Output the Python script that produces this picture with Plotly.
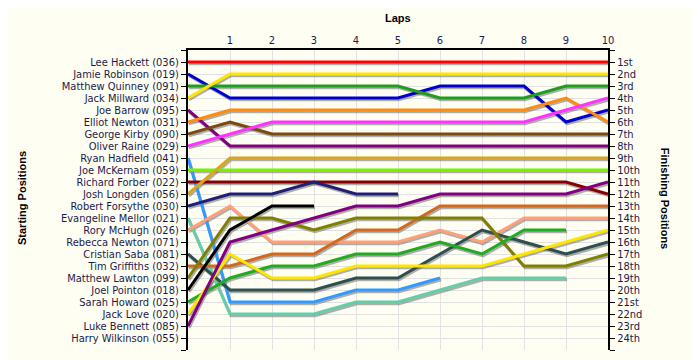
import plotly.graph_objects as go

laps = [0, 1, 2, 3, 4, 5, 6, 7, 8, 9, 10]

drivers = [
    "Lee Hackett (036)", "Jamie Robinson (019)", "Matthew Quinney (091)", "Jack Millward (034)",
    "Joe Barrow (095)", "Elliot Newton (031)", "George Kirby (090)", "Oliver Raine (029)",
    "Ryan Hadfield (041)", "Joe McKernam (059)", "Richard Forber (022)", "Josh Longden (056)",
    "Robert Forsythe (030)", "Evangeline Mellor (021)", "Rory McHugh (026)", "Rebecca Newton (071)",
    "Cristian Saba (081)", "Tim Griffiths (032)", "Matthew Lawton (099)", "Joel Pointon (018)",
    "Sarah Howard (025)", "Jack Love (020)", "Luke Bennett (085)", "Harry Wilkinson (055)",
]

finish_labels = [
    "1st", "2nd", "3rd", "4th", "5th", "6th", "7th", "8th", "9th", "10th", "11th", "12th",
    "13th", "14th", "15th", "16th", "17th", "18th", "19th", "20th", "21st", "22nd", "23rd", "24th",
]

N = None
lee_hackett       = [1, 1, 1, 1, 1, 1, 1, 1, 1, 1, 1]
jamie_robinson    = [2, 4, 4, 4, 4, 4, 3, 3, 3, 6, 5]
matthew_quinney   = [3, 3, 3, 3, 3, 3, 4, 4, 4, 3, 3]
jack_millward     = [4, 2, 2, 2, 2, 2, 2, 2, 2, 2, 2]
joe_barrow        = [5, 8, 8, 8, 8, 8, 8, 8, 8, 8, 8]
elliot_newton     = [6, 5, 5, 5, 5, 5, 5, 5, 5, 4, 6]
george_kirby      = [7, 6, 7, 7, 7, 7, 7, 7, 7, 7, 7]
oliver_raine      = [8, 7, 6, 6, 6, 6, 6, 6, 6, 5, 4]
ryan_hadfield     = [9, 21, 21, 21, 20, 20, 19, N, N, N, N]
joe_mckernam      = [10, 10, 10, 10, 10, 10, 10, 10, 10, 10, 10]
richard_forber    = [11, 11, 11, 11, 11, 11, 11, 11, 11, 11, 12]
josh_longden      = [12, 9, 9, 9, 9, 9, 9, 9, 9, 9, 9]
robert_forsythe   = [13, 12, 12, 11, 12, 12, N, N, N, N, N]
evangeline_mellor = [14, 22, 22, 22, 21, 21, 20, 19, 19, 19, N]
rory_mchugh       = [15, 13, 16, 16, 16, 16, 15, 16, 14, 14, 14]
rebecca_newton    = [16, N, N, N, N, N, N, N, N, N, N]
cristian_saba     = [17, 20, 20, 20, 19, 19, 17, 15, 16, 17, 16]
tim_griffiths     = [18, 18, 17, 17, 15, 15, 13, 13, 13, 13, 13]
matthew_lawton    = [19, 14, 14, 15, 14, 14, 14, 14, 18, 18, 17]
joel_pointon      = [20, 15, 13, 13, N, N, N, N, N, N, N]
sarah_howard      = [21, 19, 18, 18, 17, 17, 16, 17, 15, 15, N]
jack_love         = [22, 17, 19, 19, 18, 18, 18, 18, 17, 16, 15]
luke_bennett      = [23, 16, 15, 14, 13, 13, 12, 12, 12, 12, 11]
harry_wilkinson   = [24, N, N, N, N, N, N, N, N, N, N]

series = [
    lee_hackett, jamie_robinson, matthew_quinney, jack_millward, joe_barrow, elliot_newton,
    george_kirby, oliver_raine, ryan_hadfield, joe_mckernam, richard_forber, josh_longden,
    robert_forsythe, evangeline_mellor, rory_mchugh, rebecca_newton, cristian_saba, tim_griffiths,
    matthew_lawton, joel_pointon, sarah_howard, jack_love, luke_bennett, harry_wilkinson,
]

colors = [
    "#FF0000", "#0000CC", "#1E9E1E", "#FFE600", "#800080", "#FF8C10",
    "#7A4A10", "#FF33FF", "#3399FF", "#7CF000", "#880000", "#DAA520",
    "#1F1F7A", "#66CDAA", "#FFA07A", "#999999", "#2F4F4F", "#D2691E",
    "#808000", "#000000", "#22AA22", "#FFE600", "#800080", "#999999",
]

fig = go.Figure()

# shadows
for vals in series:
    xs = [x + 0.025 for x in laps]
    ys = [v + 0.15 if v is not None else None for v in vals]
    fig.add_trace(go.Scatter(x=xs, y=ys, mode="lines", line=dict(color="rgba(80,80,80,0.45)", width=3),
                             hoverinfo="skip", showlegend=False))

for name, vals, col in zip(drivers, series, colors):
    fig.add_trace(go.Scatter(x=laps, y=vals, mode="lines", name=name,
                             line=dict(color=col, width=3), showlegend=False))

# invisible trace for right axis
fig.add_trace(go.Scatter(x=[0], y=[1], yaxis="y2", mode="markers", marker=dict(opacity=0),
                         hoverinfo="skip", showlegend=False))

bg = "#FEFEF3"
tickfont = dict(family="DejaVu Sans Condensed, Liberation Sans, Arial, sans-serif", size=11, color="#1B1B4B")
titlefont = dict(family="Liberation Sans, Arial, sans-serif", size=11, color="black")
positions = list(range(0, 26))
left_text = [""] + drivers + [""]
right_text = [""] + finish_labels + [""]

fig.update_layout(
    width=700, height=360,
    margin=dict(l=180, r=100, t=42, b=18),
    paper_bgcolor=bg, plot_bgcolor=bg,
    xaxis=dict(side="top", range=[0, 10], tickvals=list(range(1, 11)), ticktext=[str(i) for i in range(1, 11)],
               showgrid=True, gridcolor="#E2E2E2", gridwidth=1, zeroline=False,
               showline=True, linecolor="black", linewidth=2, ticks="", tickfont=tickfont),
    yaxis=dict(range=[25, 0], tickvals=positions, ticktext=left_text, showgrid=True, gridcolor="#E2E2E2",
               gridwidth=1, zeroline=False, showline=True, linecolor="black", linewidth=2,
               ticks="outside", ticklen=5, tickcolor="black", tickwidth=1, tickfont=tickfont),
    yaxis2=dict(range=[25, 0], overlaying="y", side="right", tickvals=positions, ticktext=right_text,
                showgrid=False, zeroline=False, showline=True, linecolor="black", linewidth=2,
                ticks="outside", ticklen=5, tickcolor="black", tickwidth=1, tickfont=tickfont),
    annotations=[
        dict(text="<b>Laps</b>", xref="paper", yref="paper", x=0.5, y=1.107, showarrow=False,
             font=titlefont, xanchor="center", yanchor="middle"),
        dict(text="<b>Starting Positions</b>", xref="paper", yref="paper", x=-0.395, y=0.507,
             showarrow=False, textangle=-90, font=titlefont, xanchor="center", yanchor="middle"),
        dict(text="<b>Finishing Positions</b>", xref="paper", yref="paper", x=1.136, y=0.507,
             showarrow=False, textangle=90, font=titlefont, xanchor="center", yanchor="middle"),
    ],
)

fig.write_html("out.html")
